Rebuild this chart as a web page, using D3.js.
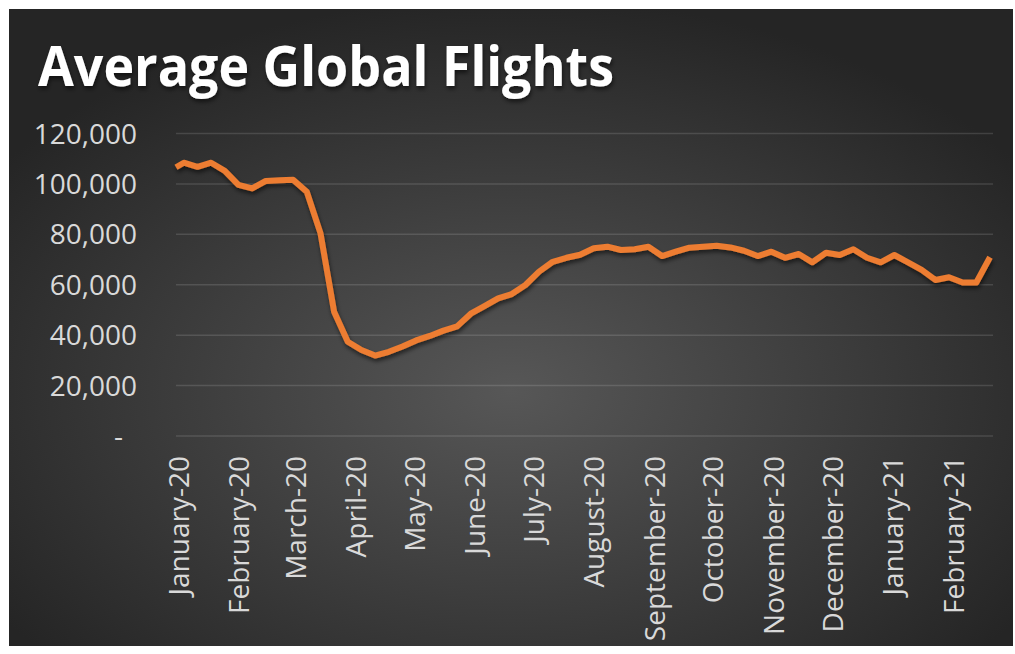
<!DOCTYPE html>
<html>
<head>
	<meta charset="utf-8"/>
	<style type="text/css">
		body { margin: 0; background: #ffffff; }
		svg { display: block; }
		.tick text { fill: #d9d9d9; font-family: "Open Sans", sans-serif; font-size: 28px; }
	</style>
</head>
<body>
	<svg id="chart" width="1015" height="654"></svg>

	<script src="https://d3js.org/d3.v7.min.js"></script>
	<script>
		// weekly dates (first point is 1 Jan, then Sundays)
		let dates = [
			"2020-01-01","2020-01-05","2020-01-12","2020-01-19","2020-01-26",
			"2020-02-02","2020-02-09","2020-02-16","2020-02-23",
			"2020-03-01","2020-03-08","2020-03-15","2020-03-22","2020-03-29",
			"2020-04-05","2020-04-12","2020-04-19","2020-04-26",
			"2020-05-03","2020-05-10","2020-05-17","2020-05-24","2020-05-31",
			"2020-06-07","2020-06-14","2020-06-21","2020-06-28",
			"2020-07-05","2020-07-12","2020-07-19","2020-07-26",
			"2020-08-02","2020-08-09","2020-08-16","2020-08-23","2020-08-30",
			"2020-09-06","2020-09-13","2020-09-20","2020-09-27",
			"2020-10-04","2020-10-11","2020-10-18","2020-10-25",
			"2020-11-01","2020-11-08","2020-11-15","2020-11-22","2020-11-29",
			"2020-12-06","2020-12-13","2020-12-20","2020-12-27",
			"2021-01-03","2021-01-10","2021-01-17","2021-01-24","2021-01-31",
			"2021-02-07","2021-02-14","2021-02-21"
		];
		let flights = [
			106600, 108400, 106800, 108400, 105200,
			99600, 98200, 101200, 101500,
			101700, 96900, 80500, 49300, 37400,
			34100, 31900, 33400, 35500,
			37900, 39700, 41800, 43500, 48500,
			51500, 54600, 56300, 59900,
			65200, 69100, 70700, 71900,
			74500, 75100, 73800, 74100, 75100,
			71400, 73100, 74700, 75100,
			75500, 74800, 73500, 71400,
			73100, 70700, 72200, 68900, 72700,
			71800, 74100, 70700, 68900,
			71800, 68900, 65900, 61900, 63000,
			60900, 60900, 70900
		];
		let monthTicks = [
			"2020-01-01","2020-02-01","2020-03-01","2020-04-01","2020-05-01",
			"2020-06-01","2020-07-01","2020-08-01","2020-09-01","2020-10-01",
			"2020-11-01","2020-12-01","2021-01-01","2021-02-01"
		];
		let yTicks = [0, 20000, 40000, 60000, 80000, 100000, 120000];
		let title = "Average Global Flights";

		let parse = d3.timeParse("%Y-%m-%d");
		let data = dates.map(function(d, i) { return {date: parse(d), value: flights[i]}; });

		let svg = d3.select("#chart");
		let plotLeft = 176, plotRight = 993, plotTop = 133.5, plotBottom = 436;

		// 背景
		let defs = svg.append("defs");
		let grad = defs.append("radialGradient")
			.attr("id", "bg")
			.attr("cx", "50%").attr("cy", "60%").attr("r", "62%");
		grad.append("stop").attr("offset", "0%").attr("stop-color", "#575757");
		grad.append("stop").attr("offset", "100%").attr("stop-color", "#252525");

		let shadow = defs.append("filter").attr("id", "shadow")
			.attr("x", "-10%").attr("y", "-10%").attr("width", "120%").attr("height", "130%");
		shadow.append("feDropShadow")
			.attr("dx", 1).attr("dy", 3).attr("stdDeviation", 2)
			.attr("flood-color", "#000").attr("flood-opacity", 0.55);

		svg.append("rect")
			.attr("x", 9).attr("y", 9)
			.attr("width", 1004).attr("height", 637)
			.attr("fill", "url(#bg)");

		// タイトル
		svg.append("text")
			.attr("x", 38).attr("y", 86)
			.attr("font-family", "'Open Sans', sans-serif")
			.attr("font-weight", 700)
			.attr("font-size", 55)
			.attr("textLength", 576)
			.attr("lengthAdjust", "spacingAndGlyphs")
			.attr("fill", "#ffffff")
			.attr("filter", "url(#shadow)")
			.text(title);

		// scales
		let xScale = d3.scaleTime()
			.domain(d3.extent(data, function(d) { return d.date; }))
			.range([plotLeft, 990]);

		let yScale = d3.scaleLinear()
			.domain([0, 120000])
			.range([plotBottom, plotTop]);

		// gridlines
		svg.append("g")
			.selectAll("line")
			.data(yTicks)
			.enter()
			.append("line")
			.attr("x1", plotLeft).attr("x2", plotRight)
			.attr("y1", function(d) { return yScale(d); })
			.attr("y2", function(d) { return yScale(d); })
			.attr("stroke", "#ffffff")
			.attr("stroke-opacity", 0.13)
			.attr("stroke-width", 1.5);

		// y axis
		let yAxis = svg.append("g")
			.attr("transform", "translate(137, 0)")
			.call(d3.axisLeft(yScale)
				.tickValues(yTicks)
				.tickSize(0)
				.tickPadding(0)
				.tickFormat(function(d) { return d === 0 ? "-" : d3.format(",")(d); }));
		yAxis.select(".domain").remove();
		yAxis.selectAll(".tick text")
			.attr("dy", "0.34em")
			.attr("x", function(d) { return d === 0 ? -14 : 0; });

		// x axis
		let xAxis = svg.append("g")
			.attr("transform", `translate(0, ${plotBottom})`)
			.call(d3.axisBottom(xScale)
				.tickValues(monthTicks.map(parse))
				.tickSize(0)
				.tickFormat(d3.timeFormat("%B-%y")));
		xAxis.select(".domain").remove();
		xAxis.selectAll(".tick text")
			.attr("text-anchor", "end")
			.attr("transform", "translate(2, 20) rotate(-90)")
			.attr("x", 0).attr("y", 0)
			.attr("dy", "0.36em");

		// line
		let line = d3.line()
			.x(function(d) { return xScale(d.date); })
			.y(function(d) { return yScale(d.value); });

		svg.append("path")
			.datum(data)
			.attr("d", line)
			.attr("fill", "none")
			.attr("stroke", "#ed7d31")
			.attr("stroke-width", 6)
			.attr("stroke-linejoin", "round")
			.attr("filter", "url(#shadow)");
	</script>
</body>
</html>
